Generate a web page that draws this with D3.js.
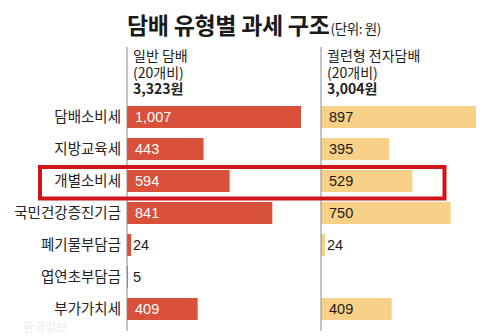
<!DOCTYPE html>
<html>
<head>
<meta charset="utf-8">
<script src="https://cdn.jsdelivr.net/npm/d3@7"></script>
<style>
  body { margin: 0; background: #fff; }
  svg { display: block; font-family: "Noto Sans CJK KR", "Noto Sans", sans-serif; }
</style>
</head>
<body>
<div id="chart"></div>
<script>
// 담배 유형별 과세 구조 (단위: 원)
const categories = ['담배소비세', '지방교육세', '개별소비세', '국민건강증진기금', '폐기물부담금', '엽연초부담금', '부가가치세'];
const regular = [1007, 443, 594, 841, 24, 5, 409];
const heated = [897, 395, 529, 750, 24, null, 409];
const panels = [
  {lines: ['일반 담배', '(20개비)', '3,323원'], values: regular, color: '#d9503b', text_in: '#fff'},
  {lines: ['궐련형 전자담배', '(20개비)', '3,004원'], values: heated, color: '#f9d088', text_in: '#1a1a1a'}
];
const highlight = '개별소비세';

const width = 492, height = 336;
const axis_x = [127, 321];

const svg = d3.select('#chart').append('svg')
  .attr('width', width)
  .attr('height', height);

// title
const title = svg.append('text')
  .attr('x', 127)
  .attr('y', 34)
  .attr('fill', '#1a1a1a');
title.append('tspan')
  .attr('font-size', 23)
  .attr('font-weight', 700)
  .attr('letter-spacing', -0.3)
  .text('담배 유형별 과세 구조');
title.append('tspan')
  .attr('font-size', 13.5)
  .attr('dx', 1)
  .attr('letter-spacing', -0.4)
  .text('(단위: 원)');

const x = d3.scaleLinear().domain([0, 1007]).range([0, 174]);
const y = d3.scaleBand()
  .domain(categories)
  .range([101, 325])
  .paddingInner(10 / 32)
  .paddingOuter(5 / 32);

// category labels
svg.append('g')
  .selectAll('text')
  .data(categories)
  .join('text')
  .attr('x', 121)
  .attr('y', d => y(d) + y.bandwidth() / 2)
  .attr('dy', '0.36em')
  .attr('text-anchor', 'end')
  .attr('font-size', 14.5)
  .attr('fill', '#222')
  .text(d => d);

panels.forEach((p, i) => {
  const x0 = axis_x[i];
  const g = svg.append('g').attr('transform', `translate(${x0},0)`);

  // header
  g.selectAll('text.head')
    .data(p.lines)
    .join('text')
    .attr('class', 'head')
    .attr('x', 6)
    .attr('y', (d, j) => 61 + j * 16.7)
    .attr('font-size', 14)
    .attr('font-weight', (d, j) => j == 2 ? 600 : 400)
    .attr('fill', '#222')
    .text(d => d);

  const rows = categories.map((c, j) => ({cat: c, v: p.values[j]})).filter(d => d.v != null);

  g.selectAll('rect')
    .data(rows)
    .join('rect')
    .attr('x', 0)
    .attr('y', d => y(d.cat))
    .attr('width', d => x(d.v))
    .attr('height', y.bandwidth())
    .attr('fill', p.color);

  g.selectAll('text.val')
    .data(rows)
    .join('text')
    .attr('class', 'val')
    .attr('x', d => x(d.v) > 30 ? 8 : 6)
    .attr('y', d => y(d.cat) + y.bandwidth() / 2)
    .attr('dy', '0.36em')
    .attr('font-size', 14.5)
    .attr('font-family', '"Liberation Sans", Arial, sans-serif')
    .attr('fill', d => x(d.v) > 30 ? p.text_in : '#1a1a1a')
    .text(d => d3.format(',')(d.v));

  // axis line
  g.append('line')
    .attr('x1', 0).attr('x2', 0)
    .attr('y1', 47).attr('y2', 331)
    .attr('stroke', '#8a8a8a')
    .attr('stroke-width', 1);
});

// highlight box around 개별소비세
svg.append('rect')
  .attr('x', 40)
  .attr('y', y(highlight) - 3)
  .attr('width', 404.5)
  .attr('height', y.bandwidth() + 9.5)
  .attr('fill', 'none')
  .attr('stroke', '#d01418')
  .attr('stroke-width', 4);

// watermark
svg.append('text')
  .attr('x', 23)
  .attr('y', 332)
  .attr('font-size', 12)
  .attr('fill', '#ececec')
  .text('한국일보');
</script>
</body>
</html>
